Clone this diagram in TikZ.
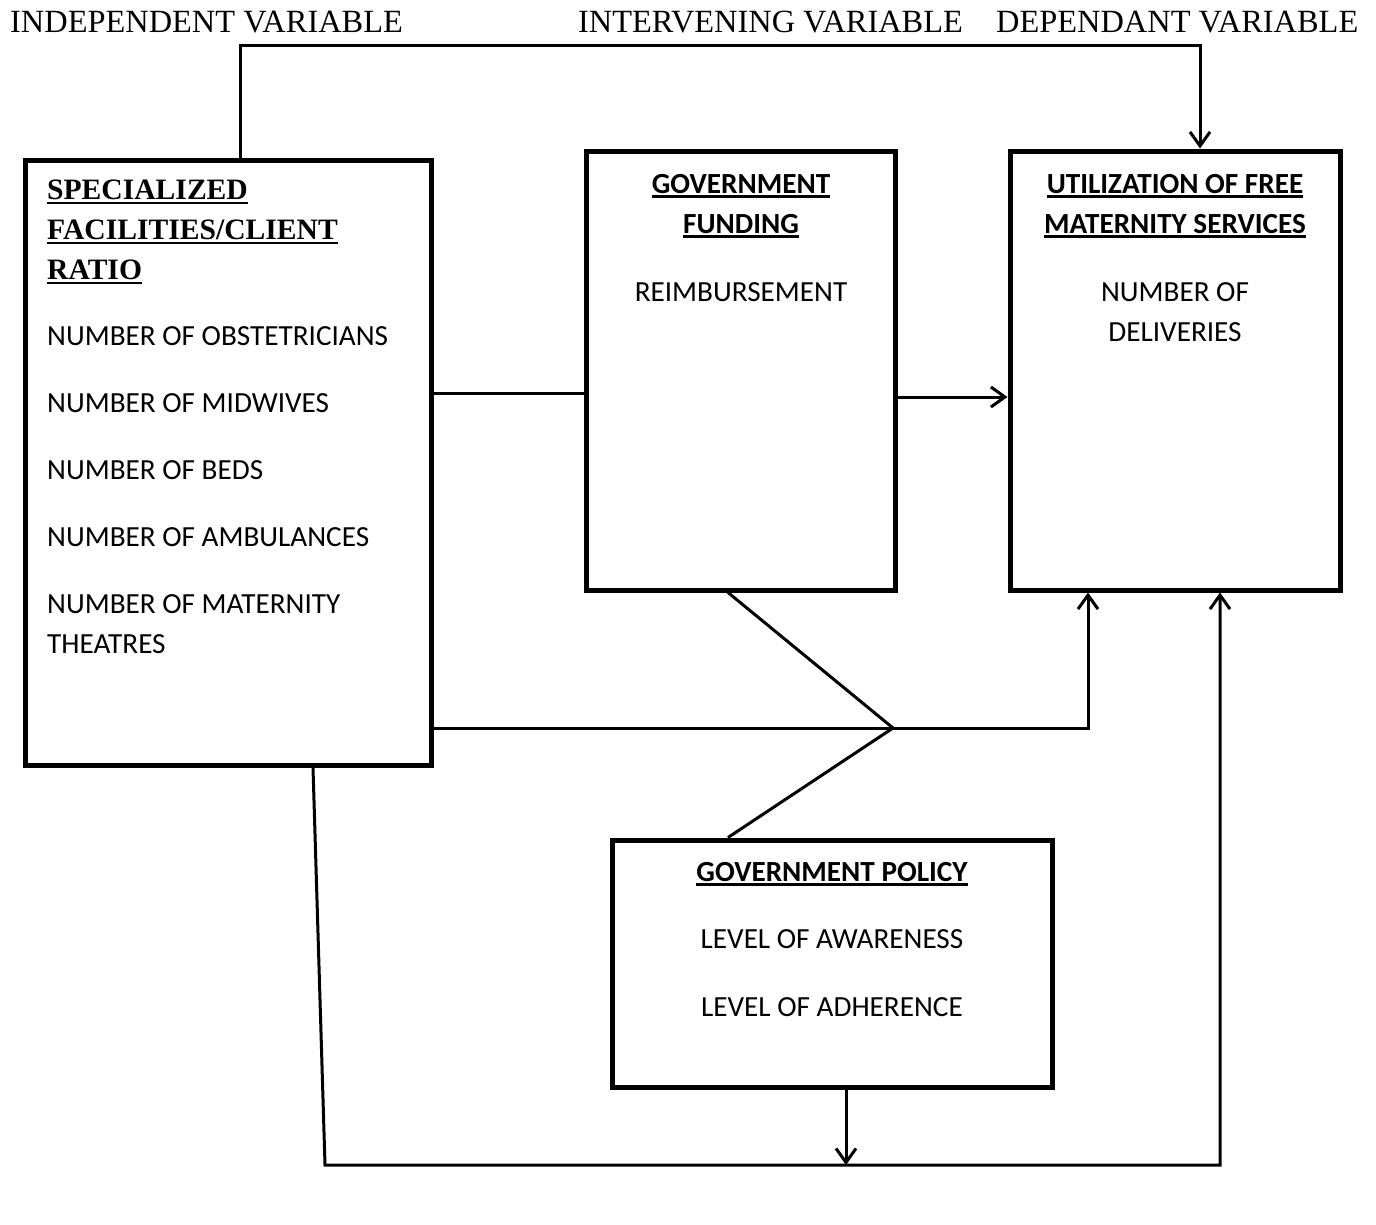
\documentclass[tikz,border=0pt]{standalone}
\usepackage{fontspec}
\setmainfont{Carlito}
\newfontfamily\timesfont{Liberation Serif}
\usetikzlibrary{arrows.meta}
\newcommand{\ulhead}[1]{\setbox0=\hbox{#1}\rlap{\rule[-4.5pt]{\wd0}{2.5pt}}\box0}
\tikzset{
  box/.style={draw, line width=5pt, inner sep=0pt},
  link/.style={line width=3pt},
  arr/.style={link, -{Straight Barb[length=14pt,width=20pt]}},
  txt/.style={inner sep=0pt, font=\fontsize{29.2}{40}\selectfont},
  vartitle/.style={inner sep=0pt, anchor=base west, font=\timesfont\fontsize{32.4}{38}\selectfont}
}

\begin{document}
\begin{tikzpicture}[x=1pt,y=-1pt]
\useasboundingbox (0,0) rectangle (1376,1224);
% column titles
\node[vartitle] (indep) at (10,32) {INDEPENDENT VARIABLE};
\node[vartitle] (interv) at (578,32) {INTERVENING VARIABLE};
\node[vartitle] (dep) at (996,32) {DEPENDANT VARIABLE};
% boxes
\node[box, minimum width=406pt, minimum height=605pt] (spec) at (228,462.5) {};
\node[box, minimum width=309pt, minimum height=439pt] (fund) at (740.5,370.5) {};
\node[box, minimum width=330pt, minimum height=439pt] (util) at (1175,370.5) {};
\node[box, minimum width=440pt, minimum height=247pt] (pol) at (832,963.5) {};
% box texts
\node[txt, anchor=north west, align=left] (specText) at (47,180) {%
  \ulhead{\timesfont\bfseries\fontsize{29.6}{40}\selectfont SPECIALIZED}\\
  \ulhead{\timesfont\bfseries\fontsize{29.6}{40}\selectfont FACILITIES/CLIENT}\\
  \ulhead{\timesfont\bfseries\fontsize{29.6}{40}\selectfont RATIO}\\[26pt]
  NUMBER OF OBSTETRICIANS\\[27pt]
  NUMBER OF MIDWIVES\\[27pt]
  NUMBER OF BEDS\\[27pt]
  NUMBER OF AMBULANCES\\[27pt]
  NUMBER OF MATERNITY\\
  THEATRES};
\node[txt, anchor=north, align=center] (fundText) at (741,173.7) {%
  \ulhead{\bfseries GOVERNMENT}\\
  \ulhead{\bfseries FUNDING}\\[28pt]
  REIMBURSEMENT};
\node[txt, anchor=north, align=center] (utilText) at (1175,173.7) {%
  \ulhead{\bfseries UTILIZATION OF FREE}\\
  \ulhead{\bfseries MATERNITY SERVICES}\\[28pt]
  NUMBER OF\\
  DELIVERIES};
\node[txt, anchor=north, align=center] (polText) at (832,861.7) {%
  \ulhead{\bfseries GOVERNMENT POLICY}\\[27pt]
  LEVEL OF AWARENESS\\[28pt]
  LEVEL OF ADHERENCE};
% connectors
\coordinate (J) at (893,728);
\coordinate (bot) at (325,1165);
\draw[arr] ([xshift=12pt]spec.north) -- ++(0,-112) -| ([xshift=25pt]util.north);
\draw[link] (spec.east |- 0,393) -- (fund.west |- 0,393);
\draw[arr] (fund.east |- 0,397) -- (util.west |- 0,397);
\draw[link] ([xshift=-12.5pt]fund.south) -- (J) -- ([xshift=-104pt]pol.north);
\draw[arr] (spec.east |- J) -- (J) -| ([xshift=-87pt]util.south);
\draw[arr] ([xshift=85pt]spec.south) -- (bot) -| ([xshift=45pt]util.south);
\draw[arr] ([xshift=14pt]pol.south) -- ([xshift=14pt]pol.south |- bot);
\end{tikzpicture}
\end{document}
